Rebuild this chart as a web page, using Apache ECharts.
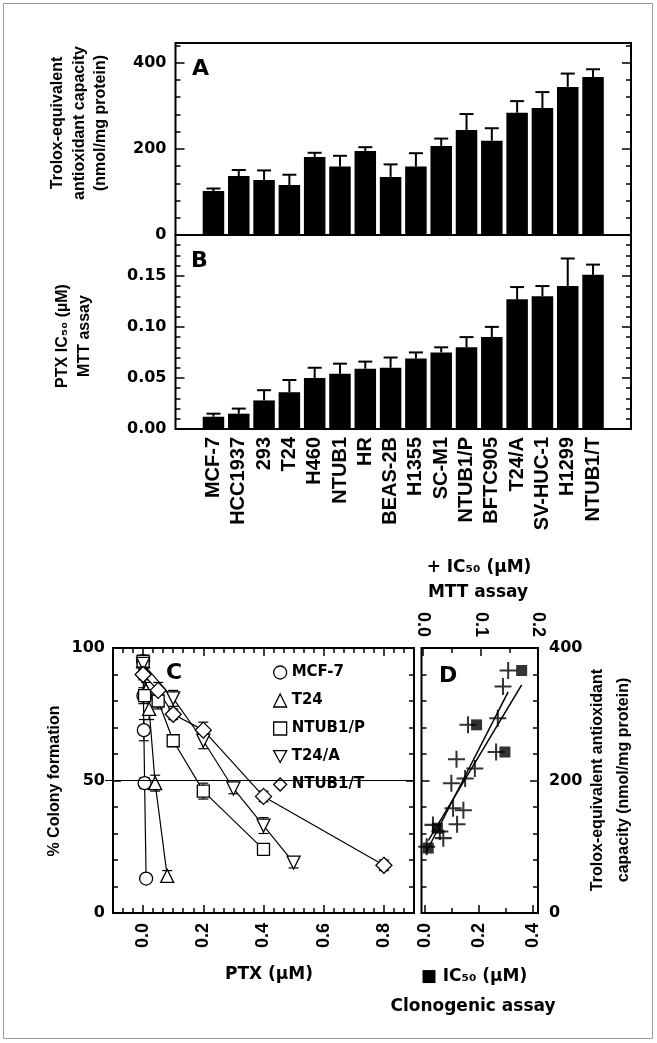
<!DOCTYPE html>
<html>
<head>
<meta charset="utf-8">
<script src="https://cdn.jsdelivr.net/npm/echarts@6/dist/echarts.min.js"></script>
<style>
html, body { margin: 0; padding: 0; background: #fff; }
#main { width: 657px; height: 1043px; }
</style>
</head>
<body>
<div id="main"></div>
<script>
// ---- data ----
var cellLines = ['MCF-7', 'HCC1937', '293', 'T24', 'H460', 'NTUB1', 'HR', 'BEAS-2B', 'H1355',
	'SC-M1', 'NTUB1/P', 'BFTC905', 'T24/A', 'SV-HUC-1', 'H1299', 'NTUB1/T'];
// A: Trolox-equivalent antioxidant capacity (nmol/mg protein)
var troloxMean = [102, 137, 128, 116, 181, 159, 195, 135, 159, 207, 244, 219, 284, 295, 344, 367];
var troloxErr = [6, 14, 22, 24, 10, 25, 9, 29, 31, 17, 37, 29, 27, 37, 31, 18];
// B: PTX IC50 (uM), MTT assay
var mttMean = [0.012, 0.015, 0.028, 0.036, 0.050, 0.054, 0.059, 0.060, 0.069, 0.075, 0.080, 0.090, 0.127, 0.130, 0.140, 0.151];
var mttErr = [0.003, 0.005, 0.010, 0.012, 0.010, 0.010, 0.007, 0.010, 0.006, 0.005, 0.010, 0.010, 0.012, 0.010, 0.027, 0.010];

// C: % colony formation vs PTX (uM)
var colonyNames = ['MCF-7', 'T24', 'NTUB1/P', 'T24/A', 'NTUB1/T'];
var mcf7Dose = [0, 0.001, 0.0025, 0.005, 0.01];
var mcf7Pct = [95, 82, 69, 49, 13];
var mcf7Err = [2, 3, 4, 2, 1];
var t24Dose = [0, 0.01, 0.02, 0.04, 0.08];
var t24Pct = [95, 84, 77, 49, 14];
var t24Err = [2, 3, 4, 3, 2];
var ntubPDose = [0, 0.005, 0.05, 0.1, 0.2, 0.4];
var ntubPPct = [95, 82, 80, 65, 46, 24];
var ntubPErr = [2, 2, 3, 2, 3, 2];
var t24aDose = [0, 0.1, 0.2, 0.3, 0.4, 0.5];
var t24aPct = [94, 81, 65, 47, 33, 19];
var t24aErr = [2, 3, 3, 2, 3, 2];
var ntubTDose = [0, 0.05, 0.1, 0.2, 0.4, 0.8];
var ntubTPct = [90, 84, 75, 69, 44, 18];
var ntubTErr = [2, 3, 2, 3, 2, 2];

// D: Trolox capacity vs IC50 (+ MTT on top axis, filled squares clonogenic on bottom axis)
var dMttIC50 = [0.006, 0.017, 0.029, 0.035, 0.049, 0.052, 0.058, 0.059, 0.070, 0.073, 0.078, 0.090, 0.127, 0.130, 0.139, 0.148];
var dMttTrolox = [100, 133, 123, 113, 196, 158, 232, 134, 155, 203, 284, 218, 243, 294, 342, 366];
var dClonoIC50 = [0.012, 0.046, 0.191, 0.296, 0.358];
var dClonoTrolox = [98, 128, 284, 243, 366];

// tick labels
var aTicks = [0, 200, 400];
var bTicks = [0, 0.05, 0.10, 0.15];
var cxTicks = [0, 0.2, 0.4, 0.6, 0.8];
var cyTicks = [0, 50, 100];
var dBotTicks = [0, 0.2, 0.4];
var dTopTicks = [0, 0.1, 0.2];
var dyTicks = [0, 200, 400];

var FONT_H = '"DejaVu Sans", sans-serif';
var FONT_V = '"Liberation Sans", Arial, sans-serif';
var DOWN_TRI = 'path://M0,0L12,0L6,11Z';
var PLUS = 'path://M4.4,0H5.6V4.4H10V5.6H5.6V10H4.4V5.6H0V4.4H4.4Z';

// minor tick positions, majors removed
function steps(from, to, step, skip) {
	var out = [];
	for (var k = 0; ; k++) {
		var v = +(from + k * step).toFixed(6);
		if (v > to + 1e-9) break;
		var isMajor = (skip || []).some(function (s) { return Math.abs(s - v) < 1e-6; });
		if (!isMajor) out.push(v);
	}
	return out;
}
var aMinor = steps(40, 440, 40, aTicks);
var bMinor = steps(0.01, 0.18, 0.01, bTicks);
var cxMinor = steps(-2 / 30, 0.88, 1 / 30, cxTicks);
var cyMinor = steps(10, 90, 10, cyTicks);
var dyMinor = steps(40, 360, 40, dyTicks);

function fmtInt(v) { return String(Math.round(v)); }
function fmt1(v) { return (+v).toFixed(1); }
function fmt2(v) { return (+v).toFixed(2); }

var xAxes = [], yAxes = [];
function add(list, ax) { list.push(ax); return list.length - 1; }

function tickAxis(grid, pos, min, max, ticks, len, label, outside) {
	var ax = {
		type: 'value', gridIndex: grid, position: pos, min: min, max: max,
		axisLine: { show: false, onZero: false },
		splitLine: { show: false },
		axisTick: {
			show: true, inside: !outside, length: len, customValues: ticks,
			lineStyle: { color: '#000', width: outside ? 1 : 1.5 }
		},
		axisLabel: { show: false }
	};
	if (label) {
		ax.axisLabel = {
			show: true, customValues: ticks, formatter: label.fmt, rotate: label.rotate || 0,
			margin: label.margin || 9, color: '#000', fontWeight: 'bold',
			fontFamily: label.font || FONT_H, fontSize: label.size || 16
		};
	}
	return ax;
}
function catAxis(grid, showLabels) {
	return {
		type: 'category', gridIndex: grid, position: 'bottom',
		data: [''].concat(cellLines, ['']),
		axisLine: { show: false, onZero: false },
		axisTick: { show: false },
		axisLabel: {
			show: showLabels, interval: 0, rotate: 90, margin: 8, color: '#000',
			fontWeight: 'bold', fontFamily: FONT_V, fontSize: 20
		}
	};
}

// error bar drawer: both = draw below the mean too
function errRenderer(both, cap, lw) {
	return function (params, api) {
		var x = api.value(0), y = api.value(1), e = api.value(2);
		var hi = api.coord([x, y + e]);
		var lo = api.coord([x, both ? y - e : y]);
		var st = { stroke: '#000', lineWidth: lw };
		var kids = [
			{ type: 'line', shape: { x1: hi[0], y1: hi[1], x2: lo[0], y2: lo[1] }, style: st },
			{ type: 'line', shape: { x1: hi[0] - cap, y1: hi[1], x2: hi[0] + cap, y2: hi[1] }, style: st }
		];
		if (both) kids.push({ type: 'line', shape: { x1: lo[0] - cap, y1: lo[1], x2: lo[0] + cap, y2: lo[1] }, style: st });
		return { type: 'group', children: kids };
	};
}

// least squares line over the data range
function fitLine(xs, ys) {
	var n = xs.length, mx = 0, my = 0, sxx = 0, sxy = 0;
	for (var i = 0; i < n; i++) { mx += xs[i] / n; my += ys[i] / n; }
	for (var j = 0; j < n; j++) { sxx += (xs[j] - mx) * (xs[j] - mx); sxy += (xs[j] - mx) * (ys[j] - my); }
	var b = sxy / sxx, a = my - b * mx;
	var x0 = Math.min.apply(null, xs), x1 = Math.max.apply(null, xs);
	return [[x0, a + b * x0], [x1, a + b * x1]];
}

var frame = { show: true, borderColor: '#000', borderWidth: 2, backgroundColor: 'transparent' };
var grids = [
	Object.assign({ left: 175.5, top: 43, width: 455.5, height: 192 }, frame),   // A
	Object.assign({ left: 175.5, top: 235, width: 455.5, height: 194 }, frame),  // B
	Object.assign({ left: 113, top: 648, width: 301, height: 265 }, frame),      // C
	Object.assign({ left: 421.5, top: 648, width: 116.5, height: 265 }, frame)   // D
];

// A
var xA = add(xAxes, catAxis(0, false));
var yA = add(yAxes, tickAxis(0, 'left', 0, 446, aTicks, 9, { fmt: fmtInt }));
add(yAxes, tickAxis(0, 'left', 0, 446, aMinor, 5));
add(yAxes, tickAxis(0, 'right', 0, 446, aTicks, 9));
add(yAxes, tickAxis(0, 'right', 0, 446, aMinor, 5));
// B
var xB = add(xAxes, catAxis(1, true));
var yB = add(yAxes, tickAxis(1, 'left', 0, 0.19, bTicks, 9, { fmt: fmt2 }));
add(yAxes, tickAxis(1, 'left', 0, 0.19, bMinor, 5));
add(yAxes, tickAxis(1, 'right', 0, 0.19, bTicks, 9));
add(yAxes, tickAxis(1, 'right', 0, 0.19, bMinor, 5));
// C
var xC = add(xAxes, tickAxis(2, 'bottom', -0.1, 0.9, cxTicks, 8, { fmt: fmt1, rotate: 90, font: FONT_V, size: 18, margin: 10 }));
add(xAxes, tickAxis(2, 'bottom', -0.1, 0.9, cxMinor, 5));
add(xAxes, tickAxis(2, 'top', -0.1, 0.9, cxTicks, 8));
add(xAxes, tickAxis(2, 'top', -0.1, 0.9, cxMinor, 5));
var yC = add(yAxes, tickAxis(2, 'left', 0, 100, cyTicks, 8, { fmt: fmtInt, margin: 8 }));
add(yAxes, tickAxis(2, 'left', 0, 100, cyMinor, 5));
add(yAxes, tickAxis(2, 'right', 0, 100, cyTicks, 8));
add(yAxes, tickAxis(2, 'right', 0, 100, cyMinor, 5));
add(yAxes, tickAxis(2, 'left', 0, 100, [50], 8, null, true)); // 50% line stub outside the frame
// D
var xDbot = add(xAxes, tickAxis(3, 'bottom', -0.013, 0.4185, dBotTicks, 8, { fmt: fmt1, rotate: 90, font: FONT_V, size: 18, margin: 10 }));
add(xAxes, tickAxis(3, 'bottom', -0.013, 0.4185, [0.1, 0.3], 5));
var xDtop = add(xAxes, tickAxis(3, 'top', -0.003, 0.2, dTopTicks, 8, { fmt: fmt1, rotate: 90, font: FONT_V, size: 18, margin: 11 }));
add(xAxes, tickAxis(3, 'top', -0.003, 0.2, [0.05, 0.15], 5));
var yD = add(yAxes, tickAxis(3, 'right', 0, 400, dyTicks, 8, { fmt: fmtInt, margin: 11 }));
add(yAxes, tickAxis(3, 'right', 0, 400, dyMinor, 5));
add(yAxes, tickAxis(3, 'left', 0, 400, dyTicks, 8));
add(yAxes, tickAxis(3, 'left', 0, 400, dyMinor, 5));

function pad(arr) { return ['-'].concat(arr, ['-']); }
function errData(vals, errs) { return vals.map(function (v, i) { return [i + 1, v, errs[i]]; }); }

var series = [
	{ type: 'bar', xAxisIndex: xA, yAxisIndex: yA, data: pad(troloxMean), barWidth: 21.5, itemStyle: { color: '#000' } },
	{ type: 'custom', xAxisIndex: xA, yAxisIndex: yA, data: errData(troloxMean, troloxErr), renderItem: errRenderer(false, 7, 2), z: 3 },
	{ type: 'bar', xAxisIndex: xB, yAxisIndex: yB, data: pad(mttMean), barWidth: 21.5, itemStyle: { color: '#000' } },
	{ type: 'custom', xAxisIndex: xB, yAxisIndex: yB, data: errData(mttMean, mttErr), renderItem: errRenderer(false, 7, 2), z: 3 }
];

var colony = [
	{ dose: mcf7Dose, pct: mcf7Pct, err: mcf7Err, symbol: 'circle', size: 13 },
	{ dose: t24Dose, pct: t24Pct, err: t24Err, symbol: 'triangle', size: 13 },
	{ dose: ntubPDose, pct: ntubPPct, err: ntubPErr, symbol: 'rect', size: 12 },
	{ dose: t24aDose, pct: t24aPct, err: t24aErr, symbol: DOWN_TRI, size: 13 },
	{ dose: ntubTDose, pct: ntubTPct, err: ntubTErr, symbol: 'diamond', size: 16 }
];
colony.forEach(function (c, k) {
	series.push({
		type: 'custom', xAxisIndex: xC, yAxisIndex: yC, z: 3,
		data: c.dose.map(function (d, i) { return [d, c.pct[i], c.err[i]]; }),
		renderItem: errRenderer(true, 5, 1.2)
	});
	var s = {
		type: 'line', name: colonyNames[k], xAxisIndex: xC, yAxisIndex: yC, z: 4,
		data: c.dose.map(function (d, i) { return [d, c.pct[i]]; }),
		symbol: c.symbol, symbolSize: c.size, showAllSymbol: true,
		itemStyle: { color: '#fff', borderColor: '#000', borderWidth: 1.3 },
		lineStyle: { color: '#000', width: 1.2 }
	};
	if (k === 0) {
		s.markLine = {
			silent: true, symbol: 'none', label: { show: false },
			lineStyle: { color: '#000', width: 1, type: 'solid' },
			data: [{ yAxis: 50 }]
		};
	}
	series.push(s);
});

series.push(
	{ type: 'line', xAxisIndex: xDtop, yAxisIndex: yD, data: fitLine(dMttIC50, dMttTrolox), showSymbol: false, lineStyle: { color: '#000', width: 1.5 }, z: 2 },
	{ type: 'line', xAxisIndex: xDbot, yAxisIndex: yD, data: fitLine(dClonoIC50, dClonoTrolox), showSymbol: false, lineStyle: { color: '#000', width: 1.5 }, z: 2 },
	{ type: 'scatter', xAxisIndex: xDtop, yAxisIndex: yD, symbol: PLUS, symbolSize: 17, itemStyle: { color: '#000' }, z: 4,
		data: dMttIC50.map(function (x, i) { return [x, dMttTrolox[i]]; }) },
	{ type: 'scatter', xAxisIndex: xDbot, yAxisIndex: yD, symbol: 'rect', symbolSize: 11, itemStyle: { color: '#000' }, z: 4,
		data: dClonoIC50.map(function (x, i) { return [x, dClonoTrolox[i]]; }) }
);

function txt(x, y, text, opt) {
	opt = opt || {};
	return {
		type: 'text', x: x, y: y, rotation: opt.rot || 0, silent: true,
		style: {
			text: text, fill: '#000', fontWeight: 'bold',
			fontFamily: opt.font || FONT_H, fontSize: opt.size || 16,
			lineHeight: opt.lh || undefined,
			align: opt.align || 'center', verticalAlign: opt.va || 'middle'
		}
	};
}
var R = Math.PI / 2;
var graphics = [
	{ type: 'rect', shape: { x: 3.5, y: 3.5, width: 649, height: 1035 }, style: { fill: 'none', stroke: '#999', lineWidth: 1 }, silent: true },
	txt(79.5, 123, 'Trolox-equivalent\nantioxidant capacity\n(nmol/mg protein)', { rot: R, font: FONT_V, size: 16, lh: 21.5 }),
	txt(74, 336, 'PTX IC\u2085\u2080 (\u00b5M)\nMTT assay', { rot: R, font: FONT_V, size: 16, lh: 22 }),
	txt(55, 781, '% Colony formation', { rot: R, font: FONT_V, size: 16 }),
	txt(611, 780, 'Trolox-equivalent antioxidant\ncapacity (nmol/mg protein)', { rot: R, font: FONT_V, size: 16, lh: 26 }),
	txt(192, 58, 'A', { size: 22, align: 'left', va: 'top' }),
	txt(191, 250, 'B', { size: 22, align: 'left', va: 'top' }),
	txt(166, 662, 'C', { size: 22, align: 'left', va: 'top' }),
	txt(439, 665, 'D', { size: 22, align: 'left', va: 'top' }),
	txt(479, 568, '+ IC\u2085\u2080 (\u00b5M)', { size: 17 }),
	txt(478, 593, 'MTT assay', { size: 17 }),
	txt(269, 975, 'PTX (\u00b5M)', { size: 17 }),
	txt(474, 977, '\u25a0 IC\u2085\u2080 (\u00b5M)', { size: 17 }),
	txt(473, 1007, 'Clonogenic assay', { size: 17 })
];

var chart = echarts.init(document.getElementById('main'), null, { renderer: 'canvas' });
chart.setOption({
	animation: false,
	backgroundColor: '#fff',
	grid: grids,
	xAxis: xAxes,
	yAxis: yAxes,
	legend: {
		left: 268, top: 660, orient: 'vertical', selectedMode: false,
		itemWidth: 13, itemHeight: 13, itemGap: 13,
		itemStyle: { color: '#fff', borderColor: '#000', borderWidth: 1.3 },
		textStyle: { color: '#000', fontWeight: 'bold', fontFamily: FONT_H, fontSize: 15 },
		data: [
			{ name: 'MCF-7', icon: 'circle' },
			{ name: 'T24', icon: 'triangle' },
			{ name: 'NTUB1/P', icon: 'rect' },
			{ name: 'T24/A', icon: DOWN_TRI },
			{ name: 'NTUB1/T', icon: 'diamond' }
		]
	},
	graphic: graphics,
	series: series
});
</script>
</body>
</html>
